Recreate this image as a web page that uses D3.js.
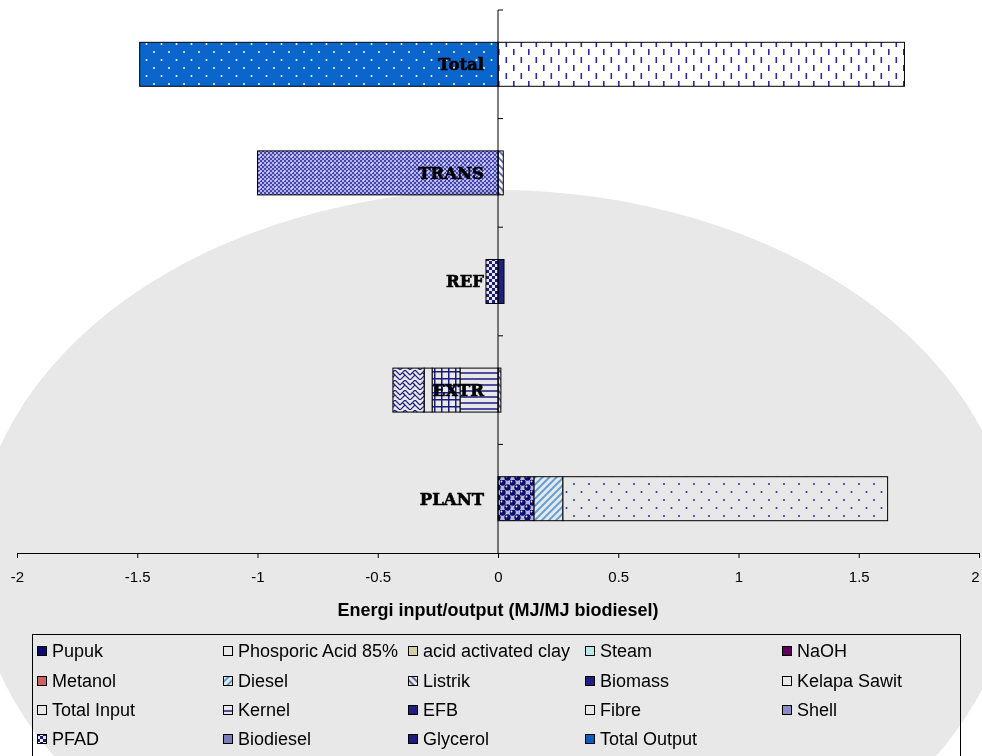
<!DOCTYPE html>
<html>
<head>
<meta charset="utf-8">
<script src="https://cdn.jsdelivr.net/npm/d3@7"></script>
<style>
    body { margin: 0; background: #fff; }
    svg { display: block; }
</style>
</head>
<body>
<div id="chart"></div>
<script>
// stages, bottom to top
const categories = ["PLANT", "EXTR", "REF", "TRANS", "Total"];
const seriesNames = ["Pupuk", "Phosporic Acid 85%", "acid activated clay", "Steam", "NaOH",
    "Metanol", "Diesel", "Listrik", "Biomass", "Kelapa Sawit",
    "Total Input", "Kernel", "EFB", "Fibre", "Shell",
    "PFAD", "Biodiesel", "Glycerol", "Total Output"];
// energy per stage (MJ/MJ biodiesel), same order as seriesNames
const plantValues = [0.15, 0, 0, 0, 0, 0, 0.12, 0, 0, 1.35, 0, 0, 0, 0, 0, 0, 0, 0, 0];
const extrValues = [0, 0, 0, 0, 0, 0, 0, 0.012, 0, 0, 0, -0.158, -0.116, -0.033, -0.13, 0, 0, 0, 0];
const refValues = [0, 0, 0, 0, 0, 0, 0, 0, 0.025, 0, 0, 0, 0, 0, 0, -0.05, 0, 0, 0];
const transValues = [0, 0, 0, 0, 0, 0, 0, 0.022, 0, 0, 0, 0, 0, 0, 0, 0, -1.0, 0, 0];
const totalValues = [0, 0, 0, 0, 0, 0, 0, 0, 0, 0, 1.69, 0, 0, 0, 0, 0, 0, 0, -1.49];
const xTicks = [-2, -1.5, -1, -0.5, 0, 0.5, 1, 1.5, 2];
const axisTitle = "Energi input/output (MJ/MJ biodiesel)";

class energyChart {
    constructor(container) {
        this.container = container;
    }
    init() {
        d3.select(this.container).selectAll("svg").remove();
        let width = 982, height = 756;
        let svg = d3.select(this.container).append("svg")
            .attr("width", width)
            .attr("height", height);
        svg.append("rect").attr("width", width).attr("height", height).attr("fill", "#fff");
        this.svg = svg;
        this.width = width;
        this.height = height;
        this.defs = svg.append("defs");
        this.x = d3.scaleLinear().domain([-2, 2]).range([17, 979]);
        this.y = d3.scaleBand()
            .domain(categories.slice().reverse())
            .range([10, 553])
            .paddingInner(0.595)
            .paddingOuter(0.2975);
    }
    makePatterns() {
        let defs = this.defs;
        let navy = "#1c1c8c";
        function pat(id, w, h, bg, rot) {
            let p = defs.append("pattern").attr("id", id)
                .attr("patternUnits", "userSpaceOnUse")
                .attr("width", w).attr("height", h);
            if (rot) p.attr("patternTransform", "rotate(" + rot + ")");
            p.append("rect").attr("width", w).attr("height", h).attr("fill", bg);
            return p;
        }
        ////Pupuk: navy balls
        let p = pat("p-pupuk", 10, 10, "#c8c8ee");
        [[2.5, 2.5], [7.5, 7.5], [7.5, -2.5], [-2.5, 7.5], [12.5, 7.5], [7.5, 12.5]].forEach(function (c) {
            p.append("circle").attr("cx", c[0]).attr("cy", c[1]).attr("r", 3.2).attr("fill", "#0c0c78");
            p.append("circle").attr("cx", c[0] - 1).attr("cy", c[1] - 1).attr("r", 0.9).attr("fill", "#fff");
        });
        ////Phosporic acid
        p = pat("p-phos", 5, 5, "#fff");
        p.append("rect").attr("x", 1).attr("y", 1).attr("width", 1.2).attr("height", 1.2).attr("fill", navy);
        ////Diesel: light blue "/" hatch
        p = pat("p-diesel", 5, 5, "#fff", 45);
        p.append("line").attr("x1", 1).attr("x2", 1).attr("y1", 0).attr("y2", 5)
            .attr("stroke", "#3d9bf0").attr("stroke-width", 1.6);
        ////Listrik: navy "\" hatch
        p = pat("p-listrik", 5, 5, "#fff", -45);
        p.append("line").attr("x1", 1).attr("x2", 1).attr("y1", 0).attr("y2", 5)
            .attr("stroke", navy).attr("stroke-width", 1.3);
        ////Kelapa sawit: sparse dots
        p = pat("p-sawit", 15, 16, "#fff");
        p.append("circle").attr("cx", 4).attr("cy", 4).attr("r", 1).attr("fill", "#3030a0");
        p.append("circle").attr("cx", 11.5).attr("cy", 12).attr("r", 1).attr("fill", "#3030a0");
        ////Total input: vertical dashes
        p = pat("p-tin", 15, 16, "#fff");
        p.append("rect").attr("x", 3).attr("y", 1).attr("width", 1.6).attr("height", 6).attr("fill", "#2a2ab0");
        p.append("rect").attr("x", 10.5).attr("y", 9).attr("width", 1.6).attr("height", 6).attr("fill", "#2a2ab0");
        ////Total output: blue with white dots
        p = pat("p-tout", 15, 16, "#0a66cc");
        p.append("circle").attr("cx", 4).attr("cy", 4).attr("r", 1).attr("fill", "#fff");
        p.append("circle").attr("cx", 11.5).attr("cy", 12).attr("r", 1).attr("fill", "#fff");
        ////Biodiesel: fine checker with white crosses
        p = pat("p-bio", 8, 8, "#b4b4e6");
        [[0, 0], [4, 0], [2, 2], [6, 2], [0, 4], [4, 4], [2, 6], [6, 6]].forEach(function (c) {
            p.append("rect").attr("x", c[0]).attr("y", c[1]).attr("width", 2).attr("height", 2).attr("fill", "#4444b0");
        });
        p.append("rect").attr("x", 3).attr("y", 3.5).attr("width", 2).attr("height", 1).attr("fill", "#fff");
        ////PFAD: checker
        p = pat("p-pfad", 6, 6, "#fff");
        p.append("rect").attr("width", 3).attr("height", 3).attr("fill", navy);
        p.append("rect").attr("x", 3).attr("y", 3).attr("width", 3).attr("height", 3).attr("fill", navy);
        ////Shell: weave
        p = pat("p-shell", 10, 10, "#fff");
        p.append("path").attr("d", "M0,5 L5,0 L10,5 M0,10 L5,5 L10,10 M2.5,2.5 L5,5 M7.5,7.5 L10,10")
            .attr("stroke", navy).attr("stroke-width", 1.2).attr("fill", "none");
        ////EFB: grid
        p = pat("p-efb", 7, 7, "#fff");
        p.append("path").attr("d", "M0.75,0 V7 M0,0.75 H7")
            .attr("stroke", navy).attr("stroke-width", 1.5).attr("fill", "none");
        ////Kernel: horizontal lines
        p = pat("p-kernel", 6, 6, "#fff");
        p.append("line").attr("x1", 0).attr("x2", 6).attr("y1", 1).attr("y2", 1)
            .attr("stroke", navy).attr("stroke-width", 1.5);
        ////Glycerol
        p = pat("p-gly", 6, 6, navy);
        p.append("rect").attr("x", 2).attr("y", 2).attr("width", 2).attr("height", 2).attr("fill", "#fff");
    }
    fillOf(name) {
        let fills = {
            "Pupuk": "url(#p-pupuk)",
            "Phosporic Acid 85%": "url(#p-phos)",
            "acid activated clay": "#e6e6b4",
            "Steam": "#ccffff",
            "NaOH": "#660066",
            "Metanol": "#e46a6a",
            "Diesel": "url(#p-diesel)",
            "Listrik": "url(#p-listrik)",
            "Biomass": "#22228e",
            "Kelapa Sawit": "url(#p-sawit)",
            "Total Input": "url(#p-tin)",
            "Kernel": "url(#p-kernel)",
            "EFB": "url(#p-efb)",
            "Fibre": "#fff",
            "Shell": "url(#p-shell)",
            "PFAD": "url(#p-pfad)",
            "Biodiesel": "url(#p-bio)",
            "Glycerol": "url(#p-gly)",
            "Total Output": "url(#p-tout)"
        };
        return fills[name];
    }
    legendFillOf(name) {
        let solid = {
            "Pupuk": "#0c0c78", "Phosporic Acid 85%": "#fff", "Diesel": "url(#p-diesel)",
            "Listrik": "url(#p-listrik)", "Kelapa Sawit": "#fff", "Total Input": "#fff",
            "Kernel": "url(#p-kernel)", "EFB": "#22228e", "Shell": "#9a9ad8", "PFAD": "url(#p-pfad)",
            "Biodiesel": "#8888cc", "Glycerol": "#1c1c8c", "Total Output": "#0a66cc"
        };
        return solid[name] || this.fillOf(name);
    }
    renderBars() {
        let svg = this.svg, x = this.x, y = this.y, that = this;
        let stageValues = [plantValues, extrValues, refValues, transValues, totalValues];
        let rows = categories.map(function (c, i) {
            let row = { stage: c };
            seriesNames.forEach(function (s, j) { row[s] = stageValues[i][j]; });
            return row;
        });
        let stacked = d3.stack().keys(seriesNames).offset(d3.stackOffsetDiverging)(rows);
        let g = svg.append("g").attr("class", "bars");
        stacked.forEach(function (layer) {
            g.selectAll(null)
                .data(layer.filter(function (d) { return d[1] - d[0] !== 0; }))
                .enter().append("rect")
                .attr("x", function (d) { return x(Math.min(d[0], d[1])); })
                .attr("y", function (d) { return y(d.data.stage); })
                .attr("width", function (d) { return Math.abs(x(d[1]) - x(d[0])); })
                .attr("height", y.bandwidth())
                .attr("fill", that.fillOf(layer.key))
                .attr("stroke", "#000")
                .attr("stroke-width", 1);
        });
        ////stage labels just left of zero
        svg.append("g").selectAll("text")
            .data(categories)
            .enter().append("text")
            .attr("x", x(0) - 14)
            .attr("y", function (d) { return y(d) + y.bandwidth() / 2; })
            .attr("dy", "0.36em")
            .attr("text-anchor", "end")
            .attr("stroke", "#000")
            .attr("stroke-width", 0.6)
            .style("font-family", "'DejaVu Serif', serif")
            .style("font-weight", "bold")
            .style("font-size", "16.5px")
            .text(function (d) { return d; });
    }
    renderAxis() {
        let svg = this.svg, x = this.x, y = this.y;
        let xAxis = svg.append("g")
            .attr("transform", "translate(0," + 553 + ")")
            .call(d3.axisBottom(x).tickValues(xTicks).tickSize(5).tickSizeOuter(0)
                .tickFormat(function (d) { return String(d); }));
        xAxis.select(".domain").attr("stroke", "#000");
        xAxis.selectAll(".tick line").attr("stroke", "#000");
        xAxis.selectAll("text")
            .attr("y", 18)
            .style("font-family", "'Liberation Sans', Arial, sans-serif")
            .style("font-size", "15px")
            .attr("fill", "#000");
        xAxis.selectAll(".tick").filter(function (d) { return d === 2; }).select("text").attr("dx", -4);

        ////vertical axis at zero with band boundary ticks
        let gy = svg.append("g");
        gy.append("line")
            .attr("x1", x(0)).attr("x2", x(0))
            .attr("y1", y.range()[0]).attr("y2", y.range()[1])
            .attr("stroke", "#000");
        gy.selectAll(".ytick")
            .data(d3.range(categories.length))
            .enter().append("line")
            .attr("class", "ytick")
            .attr("x1", x(0)).attr("x2", x(0) + 5)
            .attr("y1", function (d) { return y.range()[0] + d * y.step(); })
            .attr("y2", function (d) { return y.range()[0] + d * y.step(); })
            .attr("stroke", "#000");

        svg.append("text")
            .attr("x", x(0))
            .attr("y", 616)
            .attr("text-anchor", "middle")
            .style("font-family", "'Liberation Sans', Arial, sans-serif")
            .style("font-weight", "bold")
            .style("font-size", "18px")
            .text(axisTitle);
    }
    renderLegend() {
        let svg = this.svg, that = this;
        let colX = [37, 223, 408, 585, 782];
        let rowY = [651, 681, 710, 739];
        let lg = svg.append("g").attr("class", "legend");
        lg.append("rect")
            .attr("x", 32.5).attr("y", 634.5)
            .attr("width", 928).attr("height", 140)
            .attr("fill", "#fff").attr("stroke", "#000");
        let items = lg.selectAll(".item")
            .data(seriesNames)
            .enter().append("g")
            .attr("class", "item")
            .attr("transform", function (d, i) {
                return "translate(" + colX[i % 5] + "," + rowY[Math.floor(i / 5)] + ")";
            });
        items.append("rect")
            .attr("x", 0.5).attr("y", -4.5)
            .attr("width", 9).attr("height", 9)
            .attr("fill", function (d) { return that.legendFillOf(d); })
            .attr("stroke", "#000").attr("stroke-width", 1);
        items.append("text")
            .attr("x", 15)
            .attr("dy", "0.36em")
            .style("font-family", "'Liberation Sans', Arial, sans-serif")
            .style("font-size", "18px")
            .text(function (d) { return d; });
    }
    renderWatermark() {
        ////faint grey logo behind everything, multiplied on top
        this.svg.append("ellipse")
            .attr("cx", 495).attr("cy", 560)
            .attr("rx", 520).attr("ry", 370)
            .attr("fill", "#e8e8e8")
            .style("mix-blend-mode", "multiply")
            .style("pointer-events", "none");
    }
}

let chart = new energyChart("#chart");
chart.init();
chart.makePatterns();
chart.renderBars();
chart.renderAxis();
chart.renderLegend();
chart.renderWatermark();
</script>
</body>
</html>
